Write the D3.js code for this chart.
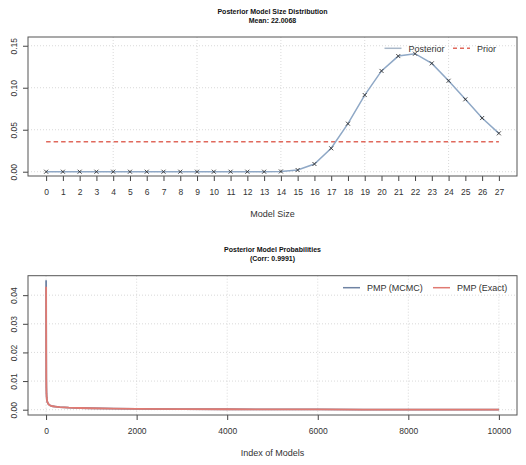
<!DOCTYPE html>
<html>
<head>
<meta charset="utf-8">
<script src="https://cdn.jsdelivr.net/npm/d3@7"></script>
<style>
    body { margin: 0; background: white; }
    text { font-family: "Liberation Sans", Arial, sans-serif; fill: #333; }
</style>
</head>
<body>
<div id="chart"></div>
<script>
// Top panel: model size distribution
const modelSizes = [0, 1, 2, 3, 4, 5, 6, 7, 8, 9, 10, 11, 12, 13, 14, 15, 16, 17, 18, 19, 20, 21, 22, 23, 24, 25, 26, 27];
const posteriorProb = [0, 0, 0, 0, 0, 0, 0, 0, 0, 0, 0, 0, 0, 0, 0.0003, 0.002, 0.0092, 0.0279, 0.0572, 0.0913,
    0.1200, 0.1377, 0.1405, 0.1290, 0.1083, 0.0862, 0.0639, 0.0457];
const priorProb = 0.0357;
const sizeGridTicks = [4, 9, 14, 19, 24];
const sizeYTicks = [0, 0.05, 0.10, 0.15];

// Bottom panel: posterior model probabilities (sampled along the index)
const modelIndex = [1, 2, 3, 4, 5, 7, 10, 15, 20, 30, 50, 75, 100, 150, 200, 300, 500, 750, 1000,
    1500, 2000, 3000, 4000, 5000, 6000, 7000, 8000, 9000, 10000];
const pmpMcmc = [0.0452, 0.0310, 0.0210, 0.0150, 0.0110, 0.0078, 0.0056, 0.0041, 0.0033, 0.0026, 0.0020, 0.0016,
    0.0014, 0.0012, 0.0011, 0.0009, 0.0007, 0.0006, 0.0005, 0.0004, 0.0003, 0.0002, 0.00015, 0.0001, 0.00008,
    0.00006, 0.00005, 0.00004, 0.00003];
const pmpExact = [0.0429, 0.0300, 0.0205, 0.0148, 0.0108, 0.0077, 0.0055, 0.0041, 0.0033, 0.0026, 0.0020, 0.0016,
    0.0014, 0.0012, 0.0011, 0.0009, 0.0007, 0.0006, 0.0005, 0.0004, 0.0003, 0.0002, 0.00015, 0.0001, 0.00008,
    0.00006, 0.00005, 0.00004, 0.00003];
const indexTicks = [0, 2000, 4000, 6000, 8000, 10000];
const pmpYTicks = [0, 0.01, 0.02, 0.03, 0.04];

const colors = {
    posterior: '#8fa8c6',
    prior: '#e0695c',
    mcmc: '#6f83a3',
    exact: '#e07a72',
    grid: '#cfcfcf',
    box: '#555'
};

const svg = d3.select('#chart').append('svg')
    .attr('width', 526)
    .attr('height', 465);

function drawPanel(cfg) {
    const g = svg.append('g');
    const x = d3.scaleLinear().domain(cfg.xDomain).range([cfg.left, cfg.right]);
    const y = d3.scaleLinear().domain(cfg.yDomain).range([cfg.bottom, cfg.top]);

    // grid
    g.selectAll('.hgrid').data(cfg.yTicks).enter().append('line')
        .attr('x1', cfg.left).attr('x2', cfg.right)
        .attr('y1', d => y(d)).attr('y2', d => y(d))
        .style('stroke', colors.grid).style('stroke-width', 0.8).style('stroke-dasharray', '1,2');
    g.selectAll('.vgrid').data(cfg.xGrid).enter().append('line')
        .attr('y1', cfg.top).attr('y2', cfg.bottom)
        .attr('x1', d => x(d)).attr('x2', d => x(d))
        .style('stroke', colors.grid).style('stroke-width', 0.8).style('stroke-dasharray', '1,2');

    // axes
    const xAxis = d3.axisBottom(x).tickValues(cfg.xTicks).tickSize(5).tickPadding(8)
        .tickFormat(d => d);
    const xg = g.append('g').attr('transform', 'translate(0,' + cfg.bottom + ')').call(xAxis);
    xg.select('.domain').remove();
    xg.selectAll('line').style('stroke', '#444');
    xg.selectAll('text').style('font-size', '8.5px').style('fill', '#333')
        .style('font-family', '"Liberation Sans", Arial, sans-serif');

    const yAxis = d3.axisLeft(y).tickValues(cfg.yTicks).tickSize(5).tickFormat(d3.format('.2f'));
    const yg = g.append('g').attr('transform', 'translate(' + cfg.left + ',0)').call(yAxis);
    yg.select('.domain').remove();
    yg.selectAll('line').style('stroke', '#444');
    yg.selectAll('text')
        .attr('x', null).attr('dy', null)
        .attr('transform', 'translate(-11.5,0) rotate(-90)')
        .style('text-anchor', 'middle')
        .style('font-size', '8.5px').style('fill', '#333')
        .style('font-family', '"Liberation Sans", Arial, sans-serif');

    // titles
    const cx = (cfg.left + cfg.right) / 2;
    cfg.titles.forEach((t, i) => {
        g.append('text').attr('x', cx).attr('y', cfg.titleY + i * 9)
            .attr('text-anchor', 'middle')
            .style('font-size', '7px').style('font-weight', 'bold').style('fill', '#111')
            .text(t);
    });
    g.append('text').attr('x', cx).attr('y', cfg.xLabelY)
        .attr('text-anchor', 'middle')
        .style('font-size', '9px').style('fill', '#333')
        .text(cfg.xLabel);

    return {g: g, x: x, y: y};
}

// ---- Top panel
const sizePanel = drawPanel({
    left: 28, right: 517, top: 37, bottom: 176,
    xDomain: [-1.08, 28.08], yDomain: [-0.0051, 0.1604],
    xTicks: modelSizes, xGrid: sizeGridTicks, yTicks: sizeYTicks,
    titles: ['Posterior Model Size Distribution', 'Mean: 22.0068'], titleY: 13.5,
    xLabel: 'Model Size', xLabelY: 217
});

sizePanel.g.append('line')
    .attr('x1', sizePanel.x(modelSizes[0])).attr('x2', sizePanel.x(modelSizes[modelSizes.length - 1]))
    .attr('y1', sizePanel.y(priorProb)).attr('y2', sizePanel.y(priorProb))
    .style('stroke', colors.prior).style('stroke-width', 1.4).style('stroke-dasharray', '4.5,3');

const sizeLine = d3.line()
    .x((d, i) => sizePanel.x(modelSizes[i]))
    .y(d => sizePanel.y(d));
sizePanel.g.append('path').datum(posteriorProb)
    .attr('d', sizeLine)
    .style('fill', 'none').style('stroke', colors.posterior).style('stroke-width', 1.5);

sizePanel.g.selectAll('.mark').data(posteriorProb).enter().append('path')
    .attr('transform', (d, i) => 'translate(' + sizePanel.x(modelSizes[i]) + ',' + sizePanel.y(d) + ')')
    .attr('d', 'M-2,-2L2,2M-2,2L2,-2')
    .style('stroke', '#333').style('stroke-width', 0.9);

// ---- Bottom panel
const pmpPanel = drawPanel({
    left: 28, right: 517, top: 275.7, bottom: 415,
    xDomain: [-399, 10400], yDomain: [-0.00185, 0.0468],
    xTicks: indexTicks, xGrid: indexTicks, yTicks: pmpYTicks,
    titles: ['Posterior Model Probabilities', '(Corr: 0.9991)'], titleY: 252,
    xLabel: 'Index of Models', xLabelY: 456
});

const pmpLine = d3.line()
    .x((d, i) => pmpPanel.x(modelIndex[i]))
    .y(d => pmpPanel.y(d));
pmpPanel.g.append('path').datum(pmpMcmc)
    .attr('d', pmpLine)
    .style('fill', 'none').style('stroke', colors.mcmc).style('stroke-width', 1.8);
pmpPanel.g.append('path').datum(pmpExact)
    .attr('d', pmpLine)
    .style('fill', 'none').style('stroke', colors.exact).style('stroke-width', 1.8);

// boxes
[sizePanel, pmpPanel].forEach((p, k) => {
    const r = k === 0 ? [28, 37, 517, 176] : [28, 275.7, 517, 415];
    p.g.append('rect')
        .attr('x', r[0]).attr('y', r[1]).attr('width', r[2] - r[0]).attr('height', r[3] - r[1])
        .style('fill', 'none').style('stroke', colors.box).style('stroke-width', 1);
});

// legends
function legendItem(g, x1, y, label, color, dash) {
    g.append('line').attr('x1', x1).attr('x2', x1 + 17).attr('y1', y).attr('y2', y)
        .style('stroke', color).style('stroke-width', 1.5)
        .style('stroke-dasharray', dash ? '4,3' : null);
    g.append('text').attr('x', x1 + 24).attr('y', y + 3.2)
        .style('font-size', '9px').style('fill', '#333').text(label);
}
legendItem(sizePanel.g, 384.5, 48.3, 'Posterior', '#a9b8c9', false);
legendItem(sizePanel.g, 453, 48.3, 'Prior', colors.prior, true);
legendItem(pmpPanel.g, 343, 287.7, 'PMP (MCMC)', colors.mcmc, false);
legendItem(pmpPanel.g, 433, 287.7, 'PMP (Exact)', colors.exact, false);
</script>
</body>
</html>
